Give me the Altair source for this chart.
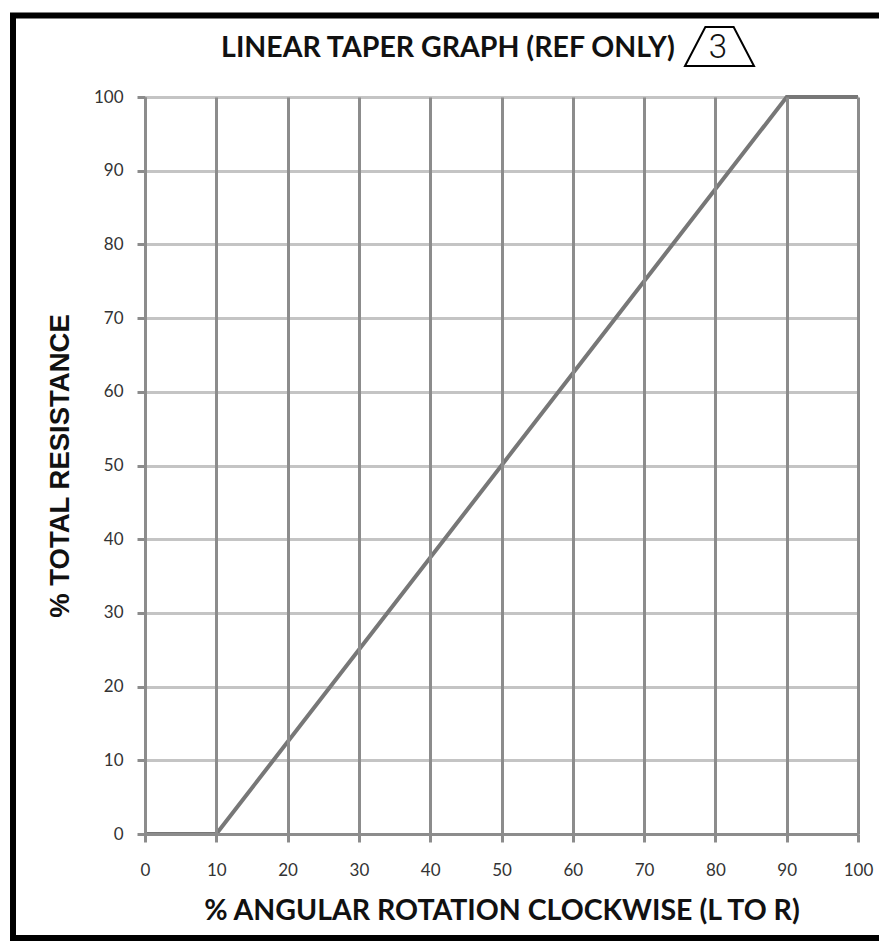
import altair as alt
import pandas as pd

# Data
rotation = [0, 10, 90, 100]
resistance = [0, 0, 100, 100]
x_ticks = [0, 10, 20, 30, 40, 50, 60, 70, 80, 90, 100]
y_ticks = [0, 10, 20, 30, 40, 50, 60, 70, 80, 90, 100]
title_text = "LINEAR TAPER GRAPH (REF ONLY)"
rev_text = "3"
x_title = "% ANGULAR ROTATION CLOCKWISE (L TO R)"
y_title = "% TOTAL RESISTANCE"

df = pd.DataFrame({"rot": rotation, "res": resistance})
one = alt.Data(values=[{"k": 1}])

W, H = 713, 737
HUM = "Lato, Open Sans, Roboto"

line = alt.Chart(df).mark_line(color="#777777", strokeWidth=4).encode(
    x=alt.X("rot:Q", scale=alt.Scale(domain=[0, 100], nice=False),
            axis=alt.Axis(values=x_ticks, title=x_title, grid=True,
                          gridColor="#8c8c8c", gridWidth=3,
                          domainColor="#8c8c8c", domainWidth=3,
                          tickColor="#8c8c8c", tickWidth=3, tickSize=8,
                          labelFont=HUM, labelFontSize=17, labelColor="#333333",
                          labelPadding=20, labelFlush=False, labelOverlap=False,
                          titleFont=HUM, titleFontSize=28.5, titleFontWeight="bold",
                          titleColor="#111111", titlePadding=18, zindex=1)),
    y=alt.Y("res:Q", scale=alt.Scale(domain=[0, 100], nice=False),
            axis=alt.Axis(values=y_ticks, title=y_title, grid=True,
                          gridColor="#c4c4c4", gridWidth=3,
                          domainColor="#8c8c8c", domainWidth=3,
                          tickColor="#8c8c8c", tickWidth=3, tickSize=8,
                          labelFont=HUM, labelFontSize=17, labelColor="#333333",
                          labelPadding=14, labelFlush=False, labelOverlap=False,
                          titleFont="Liberation Sans", titleFontSize=27.5, titleFontWeight="bold",
                          titleColor="#111111", titlePadding=19, zindex=0)),
)

title = alt.Chart(one).mark_text(
    text=title_text, font=HUM, fontSize=28.5, fontWeight="bold",
    color="#111111", baseline="middle", align="center",
).encode(x=alt.value(303), y=alt.value(-49))

trap = alt.Chart(one).mark_point(
    shape="M-1,0.565L-0.41,-0.565L0.41,-0.565L1,0.565Z",
    filled=False, stroke="black", strokeWidth=2, opacity=1,
).encode(x=alt.value(574.5), y=alt.value(-50.5), size=alt.value(4761))

rev = alt.Chart(one).mark_text(
    text=rev_text, font="Roboto", fontSize=33, fontWeight=300, color="#111111",
    baseline="middle", align="center",
).encode(x=alt.value(573), y=alt.value(-49))

border = alt.Chart(one).mark_rect(
    fill=None, stroke="black", strokeWidth=6,
).encode(x=alt.value(-132), x2=alt.value(745), y=alt.value(-81.5), y2=alt.value(841))

chart = alt.layer(line, title, trap, rev, border).properties(
    width=W, height=H,
    autosize=alt.AutoSizeParams(type="none"),
    padding={"left": 137, "top": 89, "right": 21, "bottom": 107},
).configure_view(stroke=None).configure(background="white")

chart.save("out.html", embed_options={"renderer": "svg", "actions": False})
